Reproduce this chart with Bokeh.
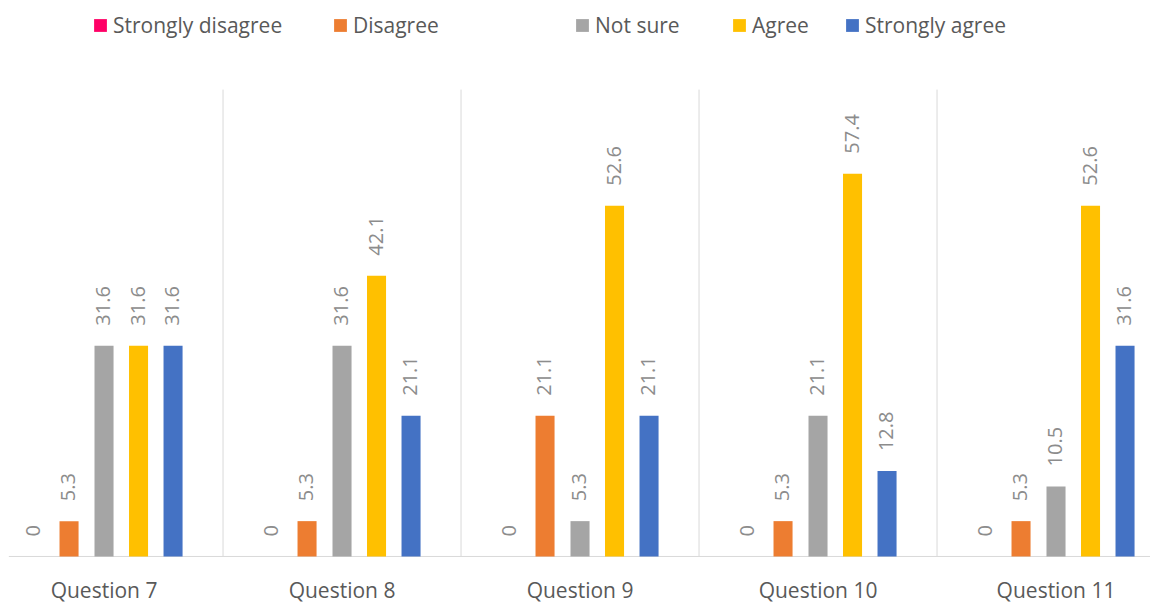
import math
from bokeh.plotting import figure
from bokeh.models import ColumnDataSource, Range1d, Legend, LegendItem
from bokeh.core.properties import value
from bokeh.embed import file_html
from bokeh.resources import INLINE

questions = ["Question 7", "Question 8", "Question 9", "Question 10", "Question 11"]
series = ["Strongly disagree", "Disagree", "Not sure", "Agree", "Strongly agree"]
strongly_disagree = [0, 0, 0, 0, 0]
disagree = [5.3, 5.3, 21.1, 5.3, 5.3]
not_sure = [31.6, 31.6, 5.3, 21.1, 10.5]
agree = [31.6, 42.1, 52.6, 57.4, 52.6]
strongly_agree = [31.6, 21.1, 21.1, 12.8, 31.6]
colors = ["#ff0066", "#ed7d31", "#a5a5a5", "#ffc000", "#4472c4"]

all_values = [strongly_disagree, disagree, not_sure, agree, strongly_agree]
offsets = [-0.295, -0.147, 0.0, 0.145, 0.29]
bar_w = 0.08
FONT = "Open Sans"

p = figure(width=1150, height=603, output_backend="svg", toolbar_location=None,
           x_range=Range1d(-0.435, 4.397), y_range=Range1d(-7.05, 83.36),
           x_axis_location=None, y_axis_location=None, min_border=0)
p.outline_line_color = None
p.grid.visible = False

# group separators and baseline
n = len(questions)
p.segment(x0=[i + 0.5 for i in range(n - 1)], x1=[i + 0.5 for i in range(n - 1)],
          y0=[0] * (n - 1), y1=[70] * (n - 1), line_color="#d9d9d9", line_width=1)
p.segment(x0=[-0.40], x1=[n - 0.5], y0=[0], y1=[0], line_color="#d9d9d9", line_width=1)

renderers = []
for name, vals, col, off in zip(series, all_values, colors, offsets):
    xs = [i + off for i in range(n)]
    src = ColumnDataSource(dict(x=xs, top=vals, lab=[f"{v:g}" for v in vals]))
    r = p.vbar(x="x", top="top", width=bar_w, bottom=0, source=src,
               fill_color=col, line_color=None)
    renderers.append(r)
    p.text(x="x", y="top", text="lab", source=src, angle=math.pi / 2,
           y_offset=-20, x_offset=-1, text_align="left", text_baseline="middle",
           text_font=value(FONT), text_font_size="20px", text_color="#8c8c8c")

# category labels
p.text(x=list(range(n)), y=[0] * n, text=questions, y_offset=34,
       text_align="center", text_baseline="middle",
       text_font=value(FONT), text_font_size="21px", text_color="#595959")

# legend (one per item to match spacing)
leg_x = [92, 332, 574, 731, 844]
for name, r, lx in zip(series, renderers, leg_x):
    leg = Legend(items=[LegendItem(label=name, renderers=[r])], location=(lx, 564),
                 glyph_width=16, glyph_height=16, label_standoff=5,
                 label_text_font=FONT, label_text_font_size="21px",
                 label_text_color="#595959", label_height=24,
                 padding=0, margin=0, border_line_alpha=0,
                 background_fill_alpha=0)
    p.add_layout(leg)

open("out.html", "w").write(file_html(p, INLINE))
